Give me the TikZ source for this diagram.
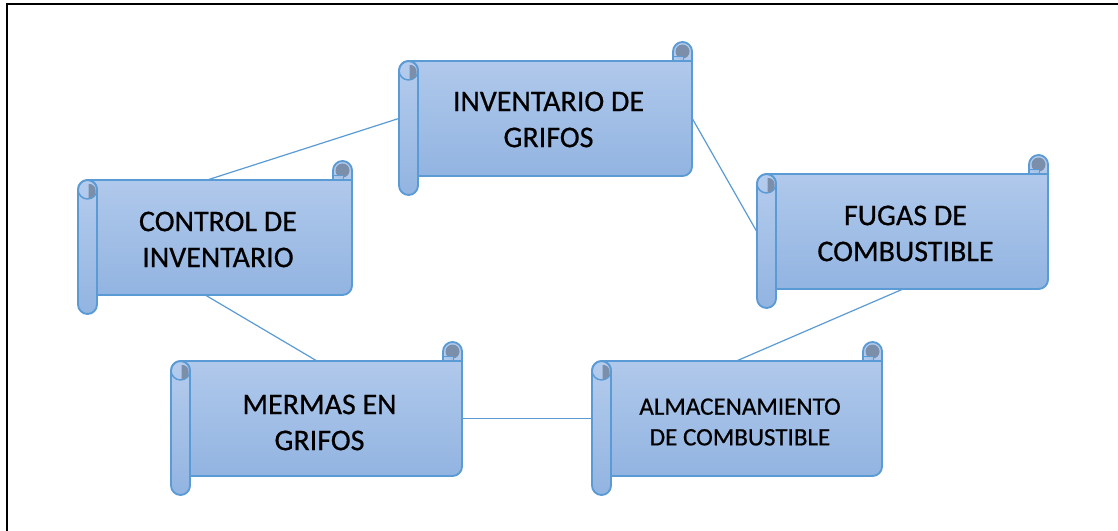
\documentclass[tikz,border=0pt]{standalone}
\usepackage{fontspec}
\setmainfont[FakeBold=0.35]{Carlito}
\newfontfamily\scrollfont[FakeBold=0.6]{Carlito}
\usetikzlibrary{fit}
\pgfdeclarelayer{bg}
\pgfdeclarelayer{links}
\pgfsetlayers{bg,links,main}
\definecolor{sbord}{RGB}{91,155,213}
\definecolor{stop}{RGB}{181,204,237}
\definecolor{sbot}{RGB}{146,180,225}
\definecolor{sdark}{RGB}{124,143,170}
\definecolor{slight}{RGB}{168,195,232}
\tikzset{
  scrollbody/.style={draw=sbord, line width=1.4pt, top color=stop, bottom color=sbot},
  curl/.style={fill=sdark},
  curlline/.style={draw=sbord, line width=1.1pt},
  link/.style={draw=sbord, line width=0.9pt},
  frameline/.style={draw=black, line width=1.5pt},
  bigtext/.style={font=\scrollfont\fontsize{22.5}{27}\selectfont, align=center, text=black},
  smalltext/.style={font=\scrollfont\fontsize{18.8}{23}\selectfont, align=center, text=black}
}
% #1 name, #2 l, #3 t, #4 r, #5 b
\newcommand\drawscroll[5]{%
  % body with right roll
  \path[scrollbody] ({#2+9.5},{#3+19}) -- ({#4-19},{#3+19}) -- ({#4-19},{#3+9.5})
     .. controls ({#4-19},{#3+4.25}) and ({#4-14.75},{#3}) .. ({#4-9.5},{#3})
     .. controls ({#4-4.25},{#3}) and ({#4},{#3+4.25}) .. ({#4},{#3+9.5})
     -- ({#4},{#5-28.5})
     .. controls ({#4},{#5-23.25}) and ({#4-4.25},{#5-19}) .. ({#4-9.5},{#5-19})
     -- ({#2+9.5},{#5-19}) -- cycle;
  % right curl
  \fill[curl] ({#4-9.5},{#3+9.5}) circle (7);
  \path[curlline, fill=slight] ({#4-19},{#3+14.5}) -- ({#4-8.5},{#3+14.5}) -- ({#4-8.5},{#3+19});
  \draw[curlline] ({#4-19},{#3+19}) -- ({#4},{#3+19});
  % left roll
  \path[scrollbody, rounded corners=7.125pt] ({#2},{#3+19}) rectangle ({#2+19},{#5});
  \draw[curlline] ({#2+9.5},{#3+28.5}) circle (9.5);
  \fill[curl] ({#2+10.5},{#3+23}) .. controls ({#2+20},{#3+22}) and ({#2+20},{#3+37.5}) .. ({#2+10.5},{#3+37.5}) -- cycle;
  \node[fit={({#2},{#3+19}) ({#4},{#5-19})}, inner sep=0pt] (#1) {};
}
\begin{document}
\begin{tikzpicture}[x=0.75pt, y=-0.75pt]
\useasboundingbox (0,0) rectangle (1118,531);
\begin{pgfonlayer}{bg}
\fill[white] (0,0) rectangle (1118,531);
\draw[frameline] (6.5,531) -- (6.5,4) -- (1118,4);
\end{pgfonlayer}

\drawscroll{inv}{399}{42}{692}{195}
\drawscroll{ctrl}{78}{161}{352}{314}
\drawscroll{fug}{757}{155}{1048}{308}
\drawscroll{mer}{171}{342}{462}{495}
\drawscroll{alm}{592}{342}{882}{495}

\node[bigtext] (inv-t) at (548.5,119.5) {INVENTARIO DE\\GRIFOS};
\node[bigtext] (ctrl-t) at (218,239.5) {CONTROL DE\\INVENTARIO};
\node[bigtext] (fug-t) at (905.5,233.5) {FUGAS DE\\COMBUSTIBLE};
\node[bigtext] (mer-t) at (319.5,422.5) {MERMAS EN\\GRIFOS};
\node[smalltext] (alm-t) at (740,422) {ALMACENAMIENTO\\DE COMBUSTIBLE};

\begin{pgfonlayer}{links}
\draw[link] ([xshift=-5.25pt]ctrl.north) -- (inv.west);
\draw[link] (inv.east) -- (fug.west);
\draw[link] ([xshift=-7pt]ctrl.south) -- (mer.north);
\draw[link] (mer.east) -- (alm.west);
\draw[link] (fug.south) -- (alm.north);
\end{pgfonlayer}
\end{tikzpicture}
\end{document}
